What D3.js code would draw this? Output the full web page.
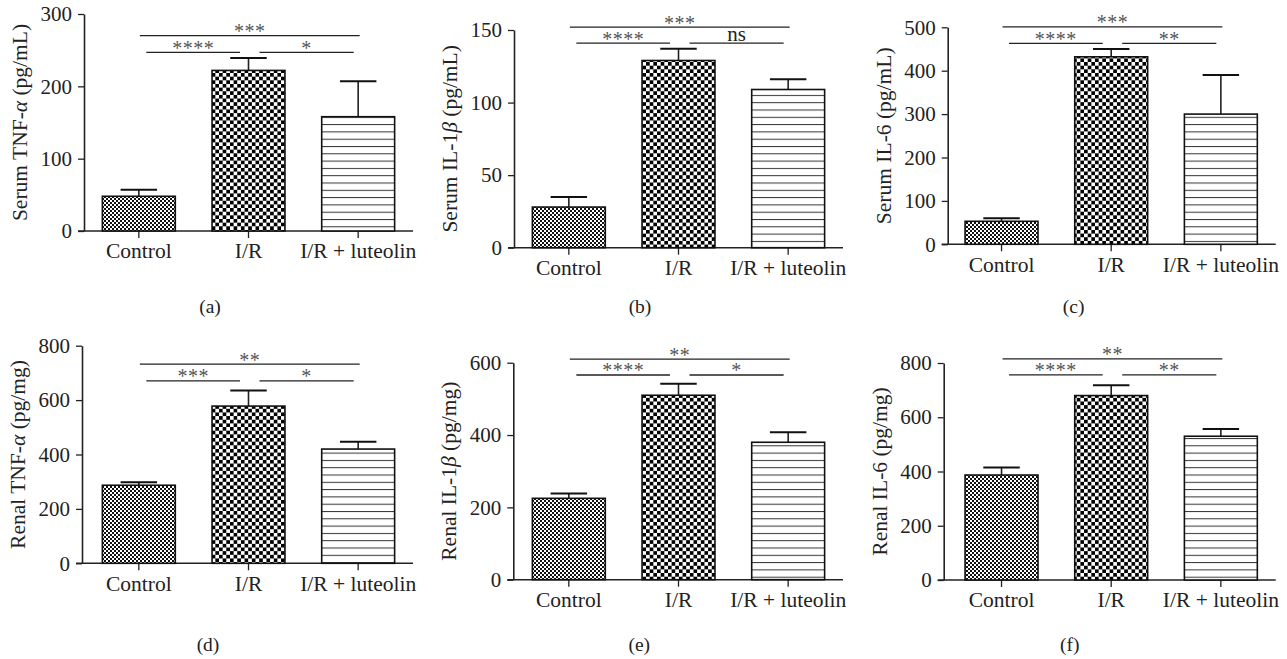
<!DOCTYPE html>
<html>
<head>
<meta charset="utf-8">
<script src="https://cdn.jsdelivr.net/npm/d3@7"></script>
<style>
  body { margin: 0; background: #fff; }
  svg text { font-family: "Liberation Serif", "Times New Roman", serif; fill: #222; }
</style>
</head>
<body>
<svg id="chart" width="1287" height="659"></svg>
<script>
// groups and values
const categories = ["Control", "I/R", "I/R + luteolin"];
const panelLabels = ["(a)", "(b)", "(c)", "(d)", "(e)", "(f)"];
const yTitles = [
  ["Serum TNF-", "α", " (pg/mL)"],
  ["Serum IL-1", "β", " (pg/mL)"],
  ["Serum IL-6 (pg/mL)", "", ""],
  ["Renal TNF-", "α", " (pg/mg)"],
  ["Renal IL-1", "β", " (pg/mg)"],
  ["Renal IL-6 (pg/mg)", "", ""]
];
const yMax = [300, 150, 500, 800, 600, 800];
const yStep = [100, 50, 100, 200, 200, 200];
const means = [
  [48, 222, 158],
  [28, 129, 109],
  [53, 432, 300],
  [287, 578, 420],
  [225, 510, 380],
  [387, 680, 530]
];
const errTop = [
  [57, 239, 207],
  [35, 137, 116],
  [60, 450, 390],
  [298, 635, 447],
  [238, 542, 408],
  [415, 718, 557]
];
const sigAll = ["***", "***", "***", "**", "**", "**"];
const sigLeft = ["****", "****", "****", "***", "****", "****"];
const sigRight = ["*", "ns", "**", "*", "*", "**"];
const sigLongAt = [270, 152, 501, 732, 610, 815];
const sigShortAt = [247, 141, 463, 671, 566, 756];

// where each panel sits on the page
const layout = [
  { axisX: 84, bandX: 84, top: 14, zero: 231, labelY: 313 },
  { axisX: 514, bandX: 514, top: 30, zero: 247.7, labelY: 313 },
  { axisX: 947.7, bandX: 946.7, top: 27.3, zero: 244.3, labelY: 313 },
  { axisX: 82, bandX: 84, top: 345.7, zero: 563.3, labelY: 650.5 },
  { axisX: 513.3, bandX: 514, top: 362.7, zero: 579.7, labelY: 650.5 },
  { axisX: 943.7, bandX: 946.7, top: 363, zero: 580, labelY: 650.5 }
];
const bandW = 329;

const svg = d3.select("#chart");
const defs = svg.append("defs");

// fine checker for Control
const pSmall = defs.append("pattern").attr("id", "checkSmall").attr("patternUnits", "userSpaceOnUse")
  .attr("width", 4).attr("height", 4);
pSmall.append("rect").attr("width", 4).attr("height", 4).attr("fill", "#fff");
pSmall.append("rect").attr("width", 2).attr("height", 2).attr("fill", "#111");
pSmall.append("rect").attr("x", 2).attr("y", 2).attr("width", 2).attr("height", 2).attr("fill", "#111");

// coarse checker for I/R
const cs = 3.65;
const pBig = defs.append("pattern").attr("id", "checkBig").attr("patternUnits", "userSpaceOnUse")
  .attr("width", cs * 2).attr("height", cs * 2);
pBig.append("rect").attr("width", cs * 2).attr("height", cs * 2).attr("fill", "#fff");
pBig.append("rect").attr("width", cs).attr("height", cs).attr("fill", "#000");
pBig.append("rect").attr("x", cs).attr("y", cs).attr("width", cs).attr("height", cs).attr("fill", "#000");

// horizontal stripes for luteolin
const pStripe = defs.append("pattern").attr("id", "stripes").attr("patternUnits", "userSpaceOnUse")
  .attr("width", 10).attr("height", 7.3);
pStripe.append("rect").attr("width", 10).attr("height", 7.3).attr("fill", "#fff");
pStripe.append("line").attr("x1", 0).attr("x2", 10).attr("y1", 0.5).attr("y2", 0.5)
  .attr("stroke", "#333").attr("stroke-width", 1);

const fills = ["url(#checkSmall)", "url(#checkBig)", "url(#stripes)"];

layout.forEach((L, i) => {
  const g = svg.append("g");

  const x = d3.scaleBand().domain(categories).range([L.bandX, L.bandX + bandW])
    .paddingInner(0.335).paddingOuter(0.1675);
  const y = d3.scaleLinear().domain([0, yMax[i]]).range([L.zero, L.top]);

  // y axis
  const yAxis = g.append("g").attr("transform", `translate(${L.axisX},0)`)
    .call(d3.axisLeft(y).tickValues(d3.range(0, yMax[i] + 1, yStep[i])).tickSize(6).tickPadding(6).tickSizeOuter(0));
  yAxis.select(".domain").attr("stroke", "#222").attr("stroke-width", 1.6);
  yAxis.selectAll(".tick line").attr("stroke", "#222").attr("stroke-width", 1.3);
  yAxis.selectAll("text").attr("font-size", 21).attr("font-family", "Liberation Serif").attr("fill", "#222");

  // x axis
  const xAxis = g.append("g").attr("transform", `translate(0,${L.zero})`)
    .call(d3.axisBottom(x).tickSize(7).tickPadding(5).tickSizeOuter(0));
  xAxis.select(".domain").remove();
  xAxis.selectAll(".tick line").attr("stroke", "#222").attr("stroke-width", 1.3);
  xAxis.selectAll("text").attr("font-size", 21.5).attr("font-family", "Liberation Serif").attr("fill", "#222");
  g.append("line").attr("x1", L.axisX - 6).attr("x2", L.bandX + bandW)
    .attr("y1", L.zero).attr("y2", L.zero).attr("stroke", "#222").attr("stroke-width", 1.5);

  // error bars (upper only)
  const bw = x.bandwidth();
  categories.forEach((c, k) => {
    const cx = x(c) + bw / 2;
    g.append("line").attr("x1", cx).attr("x2", cx).attr("y1", y(means[i][k])).attr("y2", y(errTop[i][k]))
      .attr("stroke", "#222").attr("stroke-width", 1.6);
    g.append("line").attr("x1", cx - bw / 4).attr("x2", cx + bw / 4).attr("y1", y(errTop[i][k])).attr("y2", y(errTop[i][k]))
      .attr("stroke", "#111").attr("stroke-width", 2);
  });

  // bars
  g.selectAll("rect.bar").data(categories).enter().append("rect")
    .attr("class", "bar")
    .attr("x", d => x(d))
    .attr("y", (d, k) => y(means[i][k]))
    .attr("width", bw)
    .attr("height", (d, k) => L.zero - y(means[i][k]))
    .attr("fill", (d, k) => fills[k])
    .attr("stroke", "#111").attr("stroke-width", 1.6);

  // significance brackets
  const c1 = x(categories[0]) + bw / 2, c2 = x(categories[1]) + bw / 2, c3 = x(categories[2]) + bw / 2;
  const yl = y(sigLongAt[i]), ys = y(sigShortAt[i]);
  const brackets = [
    { x1: c1 + 1, x2: c3 + 1.5, yy: yl, t: sigAll[i] },
    { x1: c1 + 7.5, x2: c2 - 8.5, yy: ys, t: sigLeft[i] },
    { x1: c2 + 11, x2: c3 - 4.5, yy: ys, t: sigRight[i] }
  ];
  brackets.forEach(b => {
    g.append("line").attr("x1", b.x1).attr("x2", b.x2).attr("y1", b.yy).attr("y2", b.yy)
      .attr("stroke", "#222").attr("stroke-width", 1.3);
    const isNs = b.t === "ns";
    g.append("text").attr("x", (b.x1 + b.x2) / 2).attr("y", isNs ? b.yy - 2.5 : b.yy + 2.5)
      .attr("text-anchor", "middle").attr("font-size", isNs ? 21 : 20)
      .attr("letter-spacing", isNs ? 0 : 0.5)
      .style("fill", isNs ? "#222" : "#555").text(b.t);
  });

  // y title
  const t = g.append("text")
    .attr("transform", `translate(${L.axisX - 57},${(L.top + L.zero) / 2}) rotate(-90)`)
    .attr("text-anchor", "middle").attr("font-size", 21.5);
  t.append("tspan").text(yTitles[i][0]);
  if (yTitles[i][1]) t.append("tspan").attr("font-style", "italic").text(yTitles[i][1]);
  if (yTitles[i][2]) t.append("tspan").text(yTitles[i][2]);

  // panel letter
  g.append("text").attr("x", L.axisX + 126).attr("y", L.labelY)
    .attr("text-anchor", "middle").attr("font-size", 19.5).text(panelLabels[i]);
});
</script>
</body>
</html>
